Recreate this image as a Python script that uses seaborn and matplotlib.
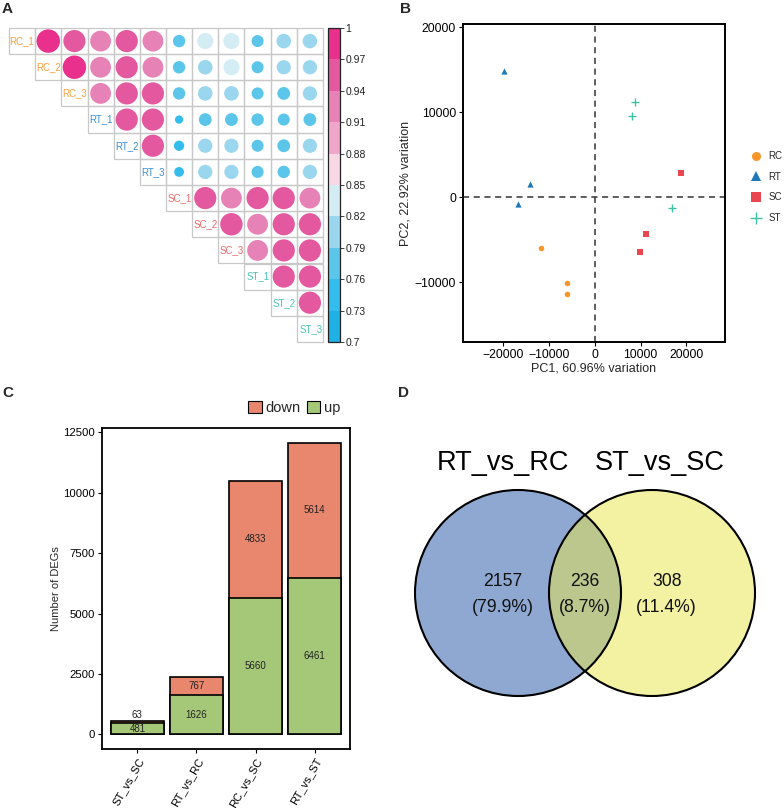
import numpy as np
import pandas as pd
import matplotlib
matplotlib.use("Agg")
import matplotlib.pyplot as plt
import seaborn as sns
from matplotlib.colors import ListedColormap, BoundaryNorm
from matplotlib.cm import ScalarMappable
from matplotlib.patches import Rectangle, Circle, Patch
from matplotlib.lines import Line2D

# ---------------- data ----------------
# Panel A: sample correlation (upper triangle, row i vs samples i+1..)
samples = ["RC_1", "RC_2", "RC_3", "RT_1", "RT_2", "RT_3",
           "SC_1", "SC_2", "SC_3", "ST_1", "ST_2", "ST_3"]
corr_RC_1 = [0.985, 0.955, 0.925, 0.955, 0.925, 0.780, 0.835, 0.835, 0.775, 0.810, 0.810]
corr_RC_2 = [0.985, 0.925, 0.955, 0.925, 0.780, 0.810, 0.835, 0.775, 0.805, 0.805]
corr_RC_3 = [0.925, 0.955, 0.955, 0.780, 0.810, 0.810, 0.775, 0.785, 0.805]
corr_RT_1 = [0.955, 0.955, 0.735, 0.785, 0.785, 0.780, 0.775, 0.785]
corr_RT_2 = [0.955, 0.755, 0.805, 0.805, 0.775, 0.785, 0.805]
corr_RT_3 = [0.750, 0.805, 0.805, 0.775, 0.780, 0.805]
corr_SC_1 = [0.955, 0.925, 0.955, 0.955, 0.925]
corr_SC_2 = [0.960, 0.925, 0.955, 0.955]
corr_SC_3 = [0.925, 0.955, 0.955]
corr_ST_1 = [0.955, 0.955]
corr_ST_2 = [0.955]
corr_ST_3 = []
corr_rows = [corr_RC_1, corr_RC_2, corr_RC_3, corr_RT_1, corr_RT_2, corr_RT_3,
             corr_SC_1, corr_SC_2, corr_SC_3, corr_ST_1, corr_ST_2, corr_ST_3]
cbar_bounds = [0.70, 0.73, 0.76, 0.79, 0.82, 0.85, 0.88, 0.91, 0.94, 0.97, 1.00]
cbar_labels = ["0.7", "0.73", "0.76", "0.79", "0.82", "0.85", "0.88", "0.91", "0.94", "0.97", "1"]
cbar_colors = ["#1FB0E6", "#33BDEC", "#5BC6EA", "#9AD6EE", "#D4ECF4",
               "#F8D8E5", "#EFA6C9", "#E782B6", "#E4589F", "#E8308C"]

# Panel B: PCA
groups = ["RC", "RT", "SC", "ST"]
pc1_RC = [-11700, -6000, -6000]
pc2_RC = [-5950, -10070, -11410]
pc1_RT = [-19780, -14070, -16700]
pc2_RT = [14820, 1610, -780]
pc1_SC = [18830, 11280, 9890]
pc2_SC = [2900, -4240, -6470]
pc1_ST = [8860, 8130, 16770]
pc2_ST = [11260, 9570, -1210]
pc1_label = "PC1, 60.96% variation"
pc2_label = "PC2, 22.92% variation"

# Panel C: DEG counts
comparisons = ["ST_vs_SC", "RT_vs_RC", "RC_vs_SC", "RT_vs_ST"]
deg_up = [481, 1626, 5660, 6461]
deg_down = [63, 767, 4833, 5614]

# Panel D: Venn
venn_sets = ["RT_vs_RC", "ST_vs_SC"]
venn_counts = [2157, 236, 308]  # left only, both, right only

# ---------------- style ----------------
sns.set_theme(style="ticks")
plt.rcParams["font.family"] = ["Liberation Sans", "DejaVu Sans"]
plt.rcParams["axes.edgecolor"] = "black"
plt.rcParams["xtick.color"] = "black"
plt.rcParams["ytick.color"] = "black"

group_colors = {"RC": "#F7962A", "RT": "#1F78B8", "SC": "#EA4650", "ST": "#3EC2A6"}
label_colors = {"RC": "#F8A040", "RT": "#3B8FD2", "SC": "#F06A6A", "ST": "#4CC4B8"}

W, H = 784, 808
fig = plt.figure(figsize=(W / 100, H / 100), dpi=100)


def px_axes(x0, y0, x1, y1):
    return fig.add_axes([x0 / W, 1 - y1 / H, (x1 - x0) / W, (y1 - y0) / H])


# ---------------- Panel A ----------------
n = len(samples)
recs = []
for i, row in enumerate(corr_rows):
    for k, v in enumerate(row):
        j = i + 1 + k
        recs.append({"xc": j + 0.5, "yc": i + 0.5, "value": v,
                     "scaled": (v - cbar_bounds[0]) / (cbar_bounds[-1] - cbar_bounds[0])})
dfA = pd.DataFrame(recs)
cmap = ListedColormap(cbar_colors)
bnorm = BoundaryNorm(cbar_bounds, cmap.N)

axA = px_axes(9, 28, 323, 342)
for i in range(n):
    for j in range(i, n):
        axA.add_patch(Rectangle((j, i), 1, 1, fill=False, ec="#C8C8C8", lw=0.9, clip_on=False))
sns.scatterplot(data=dfA, x="xc", y="yc", hue="value", palette=cmap, hue_norm=bnorm,
                size="scaled", sizes=(0, 300), size_norm=(0, 1), legend=False,
                linewidth=0, ax=axA, zorder=3)
for i, name in enumerate(samples):
    axA.text(i + 0.97, i + 0.5, name, ha="right", va="center", fontsize=7,
             color=label_colors[name[:2]])
axA.set_xlim(0, n)
axA.set_ylim(n, 0)
axA.set_axis_off()

cax = px_axes(328, 28, 340, 342)
cb = fig.colorbar(ScalarMappable(norm=bnorm, cmap=cmap), cax=cax)
cb.set_ticks(cbar_bounds)
cb.set_ticklabels(cbar_labels)
cb.outline.set_linewidth(0.9)
cb.outline.set_edgecolor("#222222")
cax.tick_params(length=3, width=0.6, labelsize=7.5, pad=1, colors="#222222")

# ---------------- Panel B ----------------
axB = px_axes(463, 24, 725, 342)
pca = {"RC": (pc1_RC, pc2_RC, "o", 16), "RT": (pc1_RT, pc2_RT, "^", 20),
       "SC": (pc1_SC, pc2_SC, "s", 16), "ST": (pc1_ST, pc2_ST, "+", 36)}
axB.axvline(0, color="#333333", lw=1.1, dashes=(4, 3), zorder=1)
axB.axhline(0, color="#333333", lw=1.1, dashes=(4, 3), zorder=1)
for g in groups:
    xs, ys, mk, sz = pca[g]
    lw = 1.0 if mk == "+" else 0
    sns.scatterplot(x=xs, y=ys, marker=mk, color=group_colors[g], s=sz,
                    linewidth=lw, ax=axB, zorder=3)
axB.set_xlim(-28700, 28400)
axB.set_ylim(-17000, 20400)
axB.set_xticks([-20000, -10000, 0, 10000, 20000])
axB.set_yticks([-10000, 0, 10000, 20000])
for sp in axB.spines.values():
    sp.set_visible(True)
    sp.set_linewidth(1.4)
axB.tick_params(labelsize=8.8, length=3, width=0.8, pad=2, colors="black")
axB.set_xlabel(pc1_label, fontsize=9, labelpad=1)
axB.set_ylabel(pc2_label, fontsize=9, labelpad=2)
legB_handles = []
for g in groups:
    mk = pca[g][2]
    legB_handles.append(Line2D([], [], marker=mk, color=group_colors[g], linestyle="none",
                               markersize=6.5 if mk != "+" else 8, markeredgewidth=1.0 if mk == "+" else 0))
fig.legend(legB_handles, groups, loc="center left", bbox_to_anchor=(744 / W, 1 - 187 / H),
           frameon=False, fontsize=7, labelspacing=1.1, handletextpad=0.6, handlelength=1.4,
           borderpad=0)

# ---------------- Panel C ----------------
axC = px_axes(102, 428, 350, 749)
deg_total = [u + d for u, d in zip(deg_up, deg_down)]
dfC = pd.DataFrame({"comparison": comparisons, "up": deg_up, "down": deg_down, "total": deg_total})
down_color = "#E8876E"
up_color = "#A5C878"
sns.barplot(data=dfC, x="comparison", y="total", color=down_color, saturation=1,
            edgecolor="black", linewidth=1.2, width=0.9, errorbar=None, ax=axC)
sns.barplot(data=dfC, x="comparison", y="up", color=up_color, saturation=1,
            edgecolor="black", linewidth=1.2, width=0.9, errorbar=None, ax=axC)
ymax = max(deg_total)
for k, (u, d) in enumerate(zip(deg_up, deg_down)):
    axC.text(k, u / 2, str(u), ha="center", va="center", fontsize=7, color="#222222")
    if d < 0.05 * ymax:
        yd = u + d + 0.02 * ymax
    else:
        yd = u + d / 2
    axC.text(k, yd, str(d), ha="center", va="center", fontsize=7, color="#222222")
axC.set_xlim(-0.6, len(comparisons) - 0.4)
axC.set_ylim(-0.05 * ymax, 1.05 * ymax)
axC.set_yticks([0, 2500, 5000, 7500, 10000, 12500])
for sp in axC.spines.values():
    sp.set_visible(True)
    sp.set_linewidth(1.3)
axC.tick_params(labelsize=8.2, length=3, width=0.8, pad=2, colors="black")
plt.setp(axC.get_xticklabels(), rotation=60, ha="right", rotation_mode="anchor", fontsize=8)
axC.set_xlabel("")
axC.set_ylabel("Number of DEGs", fontsize=8)
axC.yaxis.set_label_coords(-0.165, 0.5)
legC_handles = [Patch(facecolor=down_color, edgecolor="black", lw=0.8),
                Patch(facecolor=up_color, edgecolor="black", lw=0.8)]
fig.legend(legC_handles, ["down", "up"], loc="center right", bbox_to_anchor=(348 / W, 1 - 408 / H),
           ncol=2, frameon=False, fontsize=10.5, handlelength=0.9, handleheight=0.9,
           handletextpad=0.3, columnspacing=0.4, borderpad=0)

# ---------------- Panel D ----------------
axD = px_axes(400, 390, 784, 808)
axD.set_xlim(400, 784)
axD.set_ylim(808, 390)
axD.set_axis_off()
r = 103
cy = 593
cx_left, cx_right = 518, 652
axD.add_patch(Circle((cx_left, cy), r, facecolor="#1F53A7", alpha=0.5, lw=0))
axD.add_patch(Circle((cx_right, cy), r, facecolor="#E9E749", alpha=0.5, lw=0))
axD.add_patch(Circle((cx_left, cy), r, fill=False, ec="black", lw=1.5))
axD.add_patch(Circle((cx_right, cy), r, fill=False, ec="black", lw=1.5))
axD.text(503, 463, venn_sets[0], ha="center", va="center", fontsize=19.5, color="black")
axD.text(660, 463, venn_sets[1], ha="center", va="center", fontsize=19.5, color="black")
tot = sum(venn_counts)
for xx, c in zip([502.7, 585, 666.7], venn_counts):
    axD.text(xx, 582, str(c), ha="center", va="center", fontsize=12.7, color="#111111")
    axD.text(xx, 608, "(%.1f%%)" % (100 * c / tot), ha="center", va="center", fontsize=12.7,
             color="#111111")

# ---------------- panel letters ----------------
for lab, x, y in [("A", 2, 2), ("B", 400, 2), ("C", 2, 386), ("D", 398, 386)]:
    fig.text(x / W, 1 - y / H, lab, fontsize=11, fontweight="bold", ha="left", va="top")

fig.savefig("out.png", dpi=100)
